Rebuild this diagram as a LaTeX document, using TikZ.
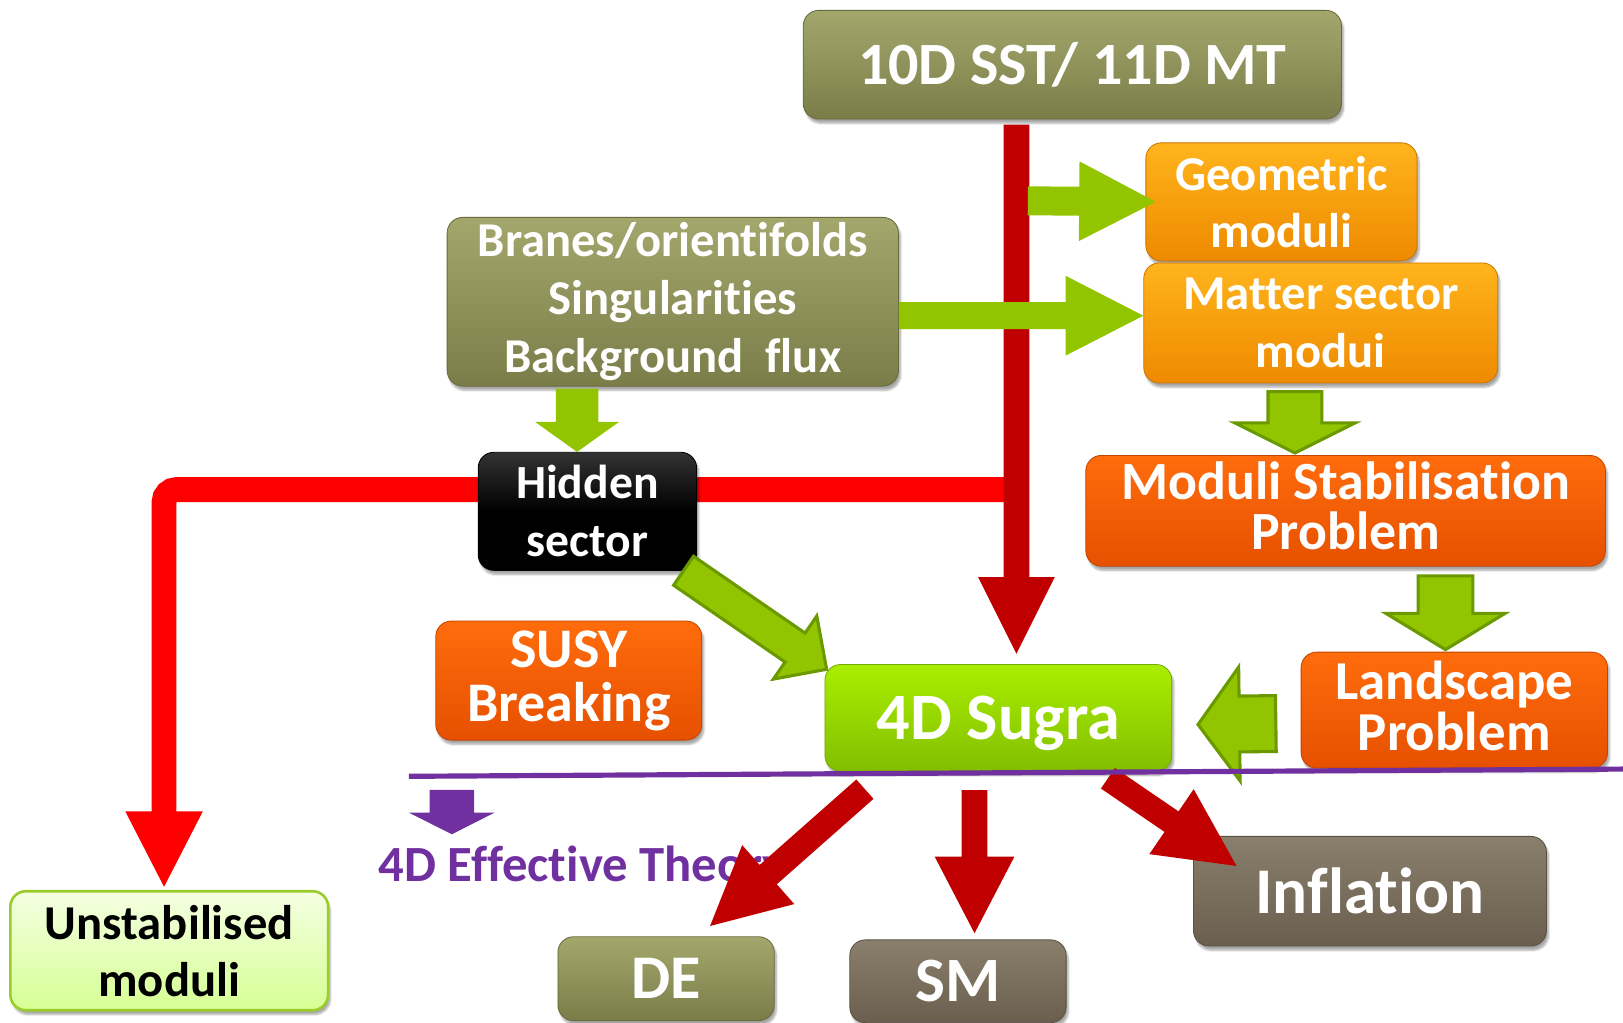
\documentclass[tikz,border=0pt]{standalone}
\usepackage{fontspec}
\setmainfont{Carlito}[Ligatures=NoCommon]
\usetikzlibrary{calc,shadows.blur}

\definecolor{olivetop}{HTML}{A4A76C}
\definecolor{olivebot}{HTML}{7A7D48}
\definecolor{orangetop}{HTML}{FFB41C}
\definecolor{orangebot}{HTML}{EE8A00}
\definecolor{redtop}{HTML}{FF6C0C}
\definecolor{redbot}{HTML}{E65000}
\definecolor{sugratop}{HTML}{AAEE00}
\definecolor{sugrabot}{HTML}{82BE00}
\definecolor{browntop}{HTML}{8A7F6C}
\definecolor{brownbot}{HTML}{6A5F4E}
\definecolor{paletop}{HTML}{F4FFE2}
\definecolor{palebot}{HTML}{D6FF94}
\definecolor{paleedge}{HTML}{9ACD2A}
\definecolor{arrowgreen}{HTML}{92C400}
\definecolor{arrowedge}{HTML}{6A9A00}
\definecolor{darkred}{HTML}{C00000}
\definecolor{brightred}{HTML}{FF0000}
\definecolor{effpurple}{HTML}{7030A0}

\pgfdeclarelayer{back}
\pgfsetlayers{back,main}

% block arrow: [style]{start}{tip}{half shaft}{half head}{head length}
\newcommand\blockarrow[6][]{%
  \coordinate (ba-s) at (#2);
  \coordinate (ba-t) at (#3);
  \coordinate (ba-h) at ($(ba-t)!#6!(ba-s)$);
  \path[#1] ($(ba-s)!#4!90:(ba-t)$) -- ($(ba-h)!#4!90:(ba-t)$)
    -- ($(ba-h)!#5!90:(ba-t)$) -- (ba-t) -- ($(ba-h)!#5!-90:(ba-t)$)
    -- ($(ba-h)!#4!-90:(ba-t)$) -- ($(ba-s)!#4!-90:(ba-t)$) -- cycle;}
% triangular head only: [style]{base centre}{tip}{half width}
\newcommand\headtri[4][]{%
  \coordinate (hd-b) at (#2);
  \coordinate (hd-t) at (#3);
  \path[#1] ($(hd-b)!#4!90:(hd-t)$) -- (hd-t) -- ($(hd-b)!#4!-90:(hd-t)$) -- cycle;}

\begin{document}
\begin{tikzpicture}[x=1pt,y=-1pt,
  box/.style={rounded corners=15pt, align=center, inner sep=0pt, text=white,
    line width=0.8pt,
    blur shadow={shadow xshift=2pt, shadow yshift=-4pt, shadow blur steps=6, shadow opacity=35}},
  olivebox/.style={box, top color=olivetop, bottom color=olivebot, draw=olivebot!85!black},
  orangebox/.style={box, top color=orangetop, bottom color=orangebot, draw=orangebot!85!black},
  redbox/.style={box, top color=redtop, bottom color=redbot, draw=redbot!85!black},
  sugrabox/.style={box, top color=sugratop, bottom color=sugrabot, draw=sugrabot!90!black},
  brownbox/.style={box, top color=browntop, bottom color=brownbot, draw=brownbot!85!black},
  blackbox/.style={box, top color=black!80, bottom color=black, middle color=black, draw=black},
  palebox/.style={box, top color=paletop, bottom color=palebot, draw=paleedge, line width=2.5pt, text=black},
  flatgreen/.style={fill=arrowgreen},
  edgegreen/.style={fill=arrowgreen, draw=arrowedge, line width=3pt, line join=miter},
  redarrow/.style={fill=darkred},
]
\useasboundingbox (0,0) rectangle (1568,988);

% ---- boxes ----
\node[olivebox, minimum width=520, minimum height=105, font=\fontsize{58}{60}\selectfont\bfseries]
  (top) at (1036,62.5) {10D SST/ 11D MT};
\node[olivebox, minimum width=436, minimum height=163, font=\fontsize{47}{56}\selectfont\bfseries]
  (branes) at (650,291.5) {Branes/orientifolds\\Singularities\\Background~ flux};
\node[orangebox, minimum width=262, minimum height=114, font=\fontsize{47}{55}\selectfont\bfseries]
  (geo) at (1238,195) {Geometric\\moduli};
\node[orangebox, minimum width=342, minimum height=116, font=\fontsize{47}{56}\selectfont\bfseries]
  (matter) at (1276,312) {Matter sector\\modui};
\node[blackbox, minimum width=211, minimum height=114, font=\fontsize{46}{56}\selectfont\bfseries]
  (hidden) at (567.5,494) {Hidden\\sector};
\node[redbox, minimum width=257, minimum height=115, font=\fontsize{54}{52}\selectfont\bfseries]
  (susy) at (549.5,657.5) {SUSY\\Breaking};
\node[sugrabox, minimum width=335, minimum height=103, text depth=0pt, font=\fontsize{64}{66}\selectfont\bfseries]
  (sugra) at (964.5,693.5) {4D Sugra};
\node[redbox, minimum width=502, minimum height=107, text depth=10pt, font=\fontsize{52}{49}\selectfont\bfseries]
  (moduli) at (1300,493.5) {Moduli Stabilisation\\Problem};
\node[redbox, minimum width=296, minimum height=112, text depth=9pt, font=\fontsize{53}{49}\selectfont\bfseries]
  (land) at (1405,686) {Landscape\\Problem};
\node[palebox, minimum width=307, minimum height=115, font=\fontsize{47}{55}\selectfont\bfseries]
  (unstab) at (163.5,918.5) {Unstabilised\\moduli};
\node[olivebox, minimum width=209, minimum height=81, font=\fontsize{60}{62}\selectfont\bfseries]
  (de) at (643.5,945.5) {DE};
\node[brownbox, minimum width=209, minimum height=80, font=\fontsize{61}{62}\selectfont\bfseries]
  (sm) at (925.5,948) {SM};
\node[brownbox, minimum width=341, minimum height=106, font=\fontsize{63}{64}\selectfont\bfseries]
  (infl) at (1323.5,861) {Inflation};

\node[inner sep=0pt, text=effpurple, font=\fontsize{49}{50}\selectfont\bfseries]
  (eft) at (563,838) {4D Effective Theory};

% ---- hidden-sector line to the unstabilised moduli (behind the boxes) ----
\coordinate (junction) at (972,473);
\begin{pgfonlayer}{back}
  \draw[brightred, line width=24pt, rounded corners=12pt]
    (junction) -| ($(unstab.north)+(-5,-74)$);
  \headtri[fill=brightred]{$(unstab.north)+(-5,-76)$}{$(unstab.north)+(-5,-3)$}{37.5pt}
\end{pgfonlayer}

% ---- trunk from the top box down to 4D Sugra ----
\coordinate (trunkTop) at ($(top.south)+(-54,5)$);
\blockarrow[redarrow]{trunkTop}{$(sugra.north)+(17.5,-10)$}{12.5pt}{37pt}{74pt}

% ---- green arrows ----
\blockarrow[flatgreen]{$(trunkTop |- geo.west)+(11,-1)$}{$(geo.west)+(10,0)$}{14pt}{38.5pt}{74pt}
\blockarrow[flatgreen]{$(branes.east)+(0,13.5)$}{$(matter.west)+(0,-7)$}{13pt}{38.5pt}{75pt}
\blockarrow[flatgreen]{$(hidden.north |- branes.south)+(-10,2)$}{$(hidden.north)+(-10,0)$}{20.5pt}{40.5pt}{29pt}
\blockarrow[edgegreen]{$(matter.south)+(-25,8)$}{$(moduli.north)+(-49,-2)$}{26pt}{58pt}{29pt}
\blockarrow[edgegreen]{$(moduli.south)+(96.5,9)$}{$(land.north)+(-8.5,-2)$}{26.5pt}{57.5pt}{35pt}
\blockarrow[edgegreen]{$(land.west)+(-24,13)$}{$(sugra.east)+(25,6.5)$}{27pt}{55pt}{40pt}
\blockarrow[edgegreen]{$(hidden.south east)+(-13,0)$}{$(sugra.north west)+(2,5)$}{17pt}{37pt}{37pt}

% ---- outputs of 4D Sugra ----
\blockarrow[redarrow]{$(sm.north |- sugra.south)+(16,18)$}{$(sm.north)+(16,-6)$}{12.5pt}{38.5pt}{74pt}
\blockarrow[redarrow]{$(sugra.south west)+(39,17)$}{$(de.north)+(42.5,-10)$}{12.5pt}{38pt}{75pt}
\blockarrow[redarrow]{$(sugra.south east)+(-62,6.5)$}{$(infl.north west)+(42,29)$}{12pt}{38pt}{76pt}

% ---- 4D effective theory divider ----
\coordinate (divL) at (395,750);
\coordinate (divR) at (1568,743);
\draw[effpurple, line width=5pt] (divL) -- (divR);
\coordinate (effTop) at (436.5,763);
\coordinate (effTip) at (436.5,806);
\blockarrow[fill=effpurple]{effTop}{effTip}{21.5pt}{41.5pt}{21pt}
\end{tikzpicture}
\end{document}
